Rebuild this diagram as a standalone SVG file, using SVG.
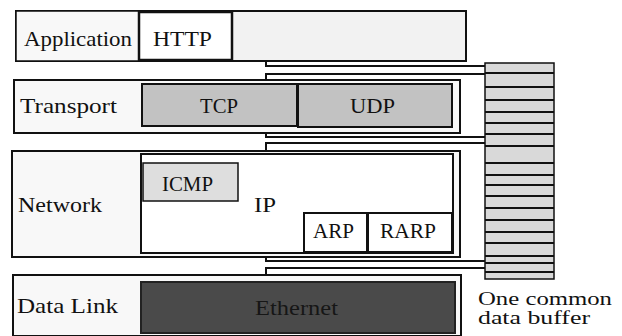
<svg xmlns="http://www.w3.org/2000/svg" width="622" height="336" viewBox="0 0 622 336" font-family="'Liberation Serif', 'DejaVu Serif', serif">
<style>
text{font-family:'Liberation Serif','DejaVu Serif',serif;font-size:22px;fill:#111}
.small{font-size:18px}
.layer{fill:#f8f8f8;stroke:#111;stroke-width:2}
.cell{fill:#f8f8f8;stroke:#111;stroke-width:1.5}
.proto{fill:#c2c2c2;stroke:#111;stroke-width:2}
.light{fill:#dedede;stroke:#111;stroke-width:1.5}
.white{fill:#fff;stroke:#111;stroke-width:2}
.conn{fill:none;stroke:#111;stroke-width:2}
.bufl{stroke:#111;stroke-width:2}
</style>
<rect width="622" height="336" fill="#fff"/>
<g id="application">
<rect class="layer" x="16" y="11" width="450" height="50" style="fill:#f2f2f2"/>
<rect class="cell" x="16" y="11" width="123" height="50"/>
<rect x="139" y="12" width="93" height="48" fill="#fff" stroke="#111" stroke-width="2.5"/>
<text x="24" y="46" textLength="108" lengthAdjust="spacingAndGlyphs">Application</text>
<text x="153" y="46" textLength="59" lengthAdjust="spacingAndGlyphs">HTTP</text>
</g>
<g id="transport">
<rect class="layer" x="14" y="80" width="446" height="53"/>
<rect class="proto" x="142" y="84" width="155" height="42"/>
<rect class="proto" x="298" y="84" width="154" height="43"/>
<text x="20" y="113" textLength="97" lengthAdjust="spacingAndGlyphs">Transport</text>
<text x="200" y="113" textLength="38" lengthAdjust="spacingAndGlyphs">TCP</text>
<text x="350" y="113" textLength="45" lengthAdjust="spacingAndGlyphs">UDP</text>
</g>
<g id="network">
<rect class="layer" x="12" y="151" width="448" height="106"/>
<rect class="white" x="141" y="154" width="312" height="99"/>
<rect class="light" x="143" y="163" width="95" height="38"/>
<rect x="304" y="213" width="63" height="39" fill="#fff" stroke="#111" stroke-width="2"/>
<rect x="368" y="213" width="84" height="39" fill="#fff" stroke="#111" stroke-width="2"/>
<text x="18" y="212" textLength="84" lengthAdjust="spacingAndGlyphs">Network</text>
<text x="162" y="191" textLength="51" lengthAdjust="spacingAndGlyphs">ICMP</text>
<text x="254" y="212" textLength="22" lengthAdjust="spacingAndGlyphs">IP</text>
<text x="313" y="238" textLength="41" lengthAdjust="spacingAndGlyphs">ARP</text>
<text x="380" y="238" textLength="56" lengthAdjust="spacingAndGlyphs">RARP</text>
</g>
<g id="datalink">
<rect class="layer" x="13" y="275" width="448" height="61"/>
<rect x="141" y="282" width="314" height="51" fill="#4a4a4a" stroke="#222" stroke-width="2"/>
<text x="17" y="313" textLength="101" lengthAdjust="spacingAndGlyphs">Data Link</text>
<text x="255" y="315" textLength="83" lengthAdjust="spacingAndGlyphs" style="fill:#161616">Ethernet</text>
</g>
<g id="buffer">
<rect x="485" y="63" width="69" height="216" fill="#d9d9d9" stroke="#111" stroke-width="1.5"/>
<g class="bufl">
<line x1="485" y1="73" x2="554" y2="73"/>
<line x1="485" y1="87" x2="554" y2="87"/>
<line x1="485" y1="100" x2="554" y2="100"/>
<line x1="485" y1="112" x2="554" y2="112"/>
<line x1="485" y1="123" x2="554" y2="123"/>
<line x1="485" y1="134" x2="554" y2="134"/>
<line x1="485" y1="146" x2="554" y2="146"/>
<line x1="485" y1="163" x2="554" y2="163"/>
<line x1="485" y1="175" x2="554" y2="175"/>
<line x1="485" y1="185" x2="554" y2="185"/>
<line x1="485" y1="196" x2="554" y2="196"/>
<line x1="485" y1="208" x2="554" y2="208"/>
<line x1="485" y1="220" x2="554" y2="220"/>
<line x1="485" y1="232" x2="554" y2="232"/>
<line x1="485" y1="243" x2="554" y2="243"/>
<line x1="485" y1="256" x2="554" y2="256"/>
<line x1="485" y1="263" x2="554" y2="263"/>
<line x1="485" y1="272" x2="554" y2="272"/>
</g>
<text class="small" x="478" y="305" textLength="134" lengthAdjust="spacingAndGlyphs">One common</text>
<text class="small" x="478" y="324" textLength="112" lengthAdjust="spacingAndGlyphs">data buffer</text>
</g>
<g id="connectors">
<path class="conn" d="M266 62 V66 H485"/>
<path class="conn" d="M266 80 V74 H485"/>
<path class="conn" d="M266 133 V137 H485"/>
<path class="conn" d="M266 151 V143 H485"/>
<path class="conn" d="M266 257 V261 H485"/>
<path class="conn" d="M266 275 V268 H485"/>
</g>
</svg>
